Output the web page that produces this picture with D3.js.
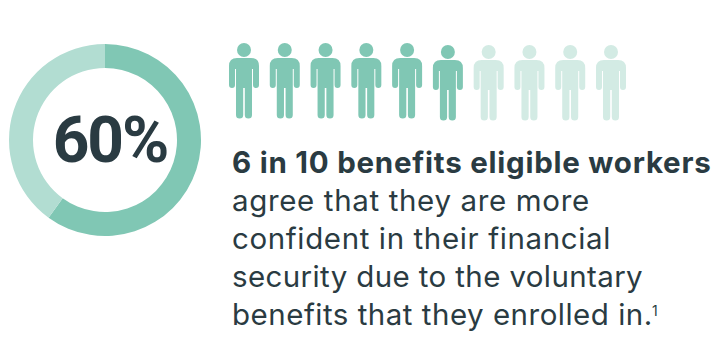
<!DOCTYPE html>
<html>
<head>
<meta charset="utf-8">
<script src="https://cdnjs.cloudflare.com/ajax/libs/d3/7.8.5/d3.min.js"></script>
<style>
html,body{margin:0;padding:0;background:#fff}
svg{display:block}
text{font-family:Inter,sans-serif;fill:#2a3b42}
</style>
</head>
<body>
<svg id="chart" width="712" height="339"></svg>
<script>
const shareValues = [60, 40];
const shareColors = ["#80c7b4", "#b2ddd2"];
const centerLabel = "60%";
const peopleStates = [1, 1, 1, 1, 1, 1, 0, 0, 0, 0];
const peopleColors = ["#d3ebe4", "#80c7b4"];
const headline = "6 in 10 benefits eligible workers";
const bodyLines = [
  "agree that they are more",
  "confident in their financial",
  "security due to the voluntary",
  "benefits that they enrolled in."
];
const footnoteMark = "1";

const svg = d3.select("#chart");

// Donut
const pie = d3.pie().sort(null).value(d => d);
const arc = d3.arc().innerRadius(72).outerRadius(96);
const donut = svg.append("g").attr("transform", "translate(105,140)");
donut.selectAll("path").data(pie(shareValues)).join("path")
  .attr("d", arc)
  .attr("fill", (d, i) => shareColors[i]);
svg.append("text")
  .attr("x", 110)
  .attr("y", 162)
  .attr("text-anchor", "middle")
  .style("font-family", "Roboto")
  .attr("font-size", 64)
  .attr("font-weight", 700)
  .attr("letter-spacing", -2)
  .text(centerLabel);

// Row of pictogram figures, one per ten workers
const personX = d3.scaleLinear().domain([0, peopleStates.length - 1]).range([244, 611]);
const people = svg.append("g").selectAll("g").data(peopleStates).join("g")
  .attr("transform", (d, i) => `translate(${personX(i)},${i < 5 ? 50 : 52})`)
  .attr("fill", d => peopleColors[d]);
people.append("circle").attr("r", 7);
people.append("path").attr("d", "M-7,8H7Q15,8 15,16V35A3,3 0 0 1 9,35V19H8V65A3.6,3.6 0 0 1 .8,65V38H-.8V65A3.6,3.6 0 0 1 -8,65V19H-9V35A3,3 0 0 1 -15,35V16Q-15,8 -7,8Z");

// Caption: tracking is tuned per line so the rag stays even
const bodyTracking = [0.65, 0.62, 0.38, 0.5];
const caption = svg.append("text").attr("font-size", 29.5);
caption.append("tspan").attr("x", 232).attr("y", 172.5).attr("font-weight", 700)
  .attr("letter-spacing", 0.76).text(headline);
bodyLines.forEach((line, i) => {
  caption.append("tspan").attr("x", 232).attr("y", 210.5 + i * 38.2)
    .attr("letter-spacing", bodyTracking[i]).text(line);
});
svg.append("text").attr("x", 652).attr("y", 316).attr("font-size", 14).text(footnoteMark);
</script>
</body>
</html>
